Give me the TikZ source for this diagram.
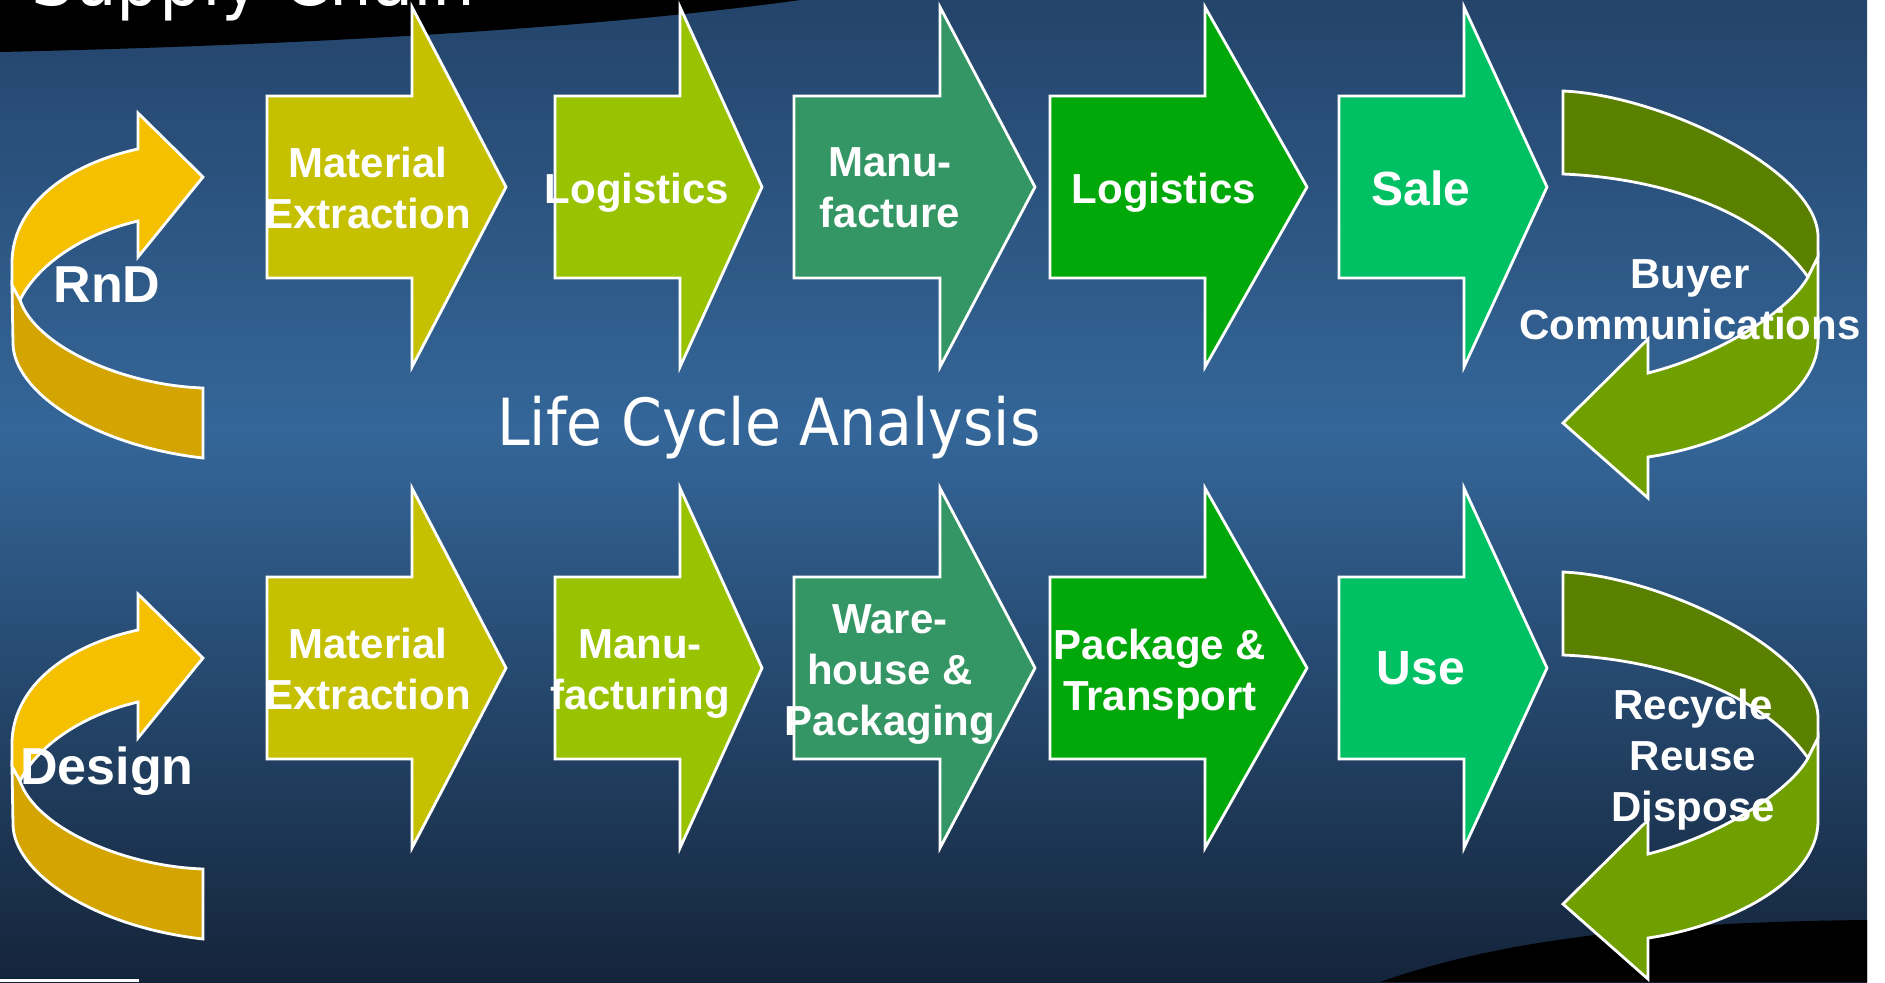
\documentclass[tikz,border=0pt]{standalone}
\usepackage{fontspec}
\setmainfont{Liberation Sans}
\newfontfamily\slidefont{DejaVu Sans Condensed}

\definecolor{bgtop}{RGB}{36,68,106}
\definecolor{bgmid}{RGB}{52,102,153}
\definecolor{bgbot}{RGB}{20,36,58}
\definecolor{matcol}{RGB}{197,192,0}
\definecolor{logcol}{RGB}{153,194,0}
\definecolor{mancol}{RGB}{52,150,100}
\definecolor{shipcol}{RGB}{0,168,10}
\definecolor{salecol}{RGB}{0,192,100}
\definecolor{turnfront}{RGB}{245,192,0}
\definecolor{turnback}{RGB}{212,165,0}
\definecolor{loopback}{RGB}{90,128,0}
\definecolor{loopfront}{RGB}{112,160,0}

\begin{document}
\begin{tikzpicture}[x=0.5pt, y=-0.5pt,
		flow/.style     = {draw=white, line width=1.4pt, line join=miter},
		word/.style     = {text=white, align=center, inner sep=0pt, font=\bfseries\fontsize{21}{25.5}\selectfont},
		big word/.style = {word, font=\bfseries\fontsize{24}{28}\selectfont},
		side word/.style= {word, font=\bfseries\fontsize{26}{30}\selectfont},
		heading/.style  = {text=white, inner sep=0pt, font=\slidefont\fontsize{32.5}{36}\selectfont}]
		
		\useasboundingbox (0,0) rectangle (1885,982);
		\clip (0,0) rectangle (1885,982);
		
		% slide background
		\fill[white] (0,0) rectangle (1885,982);
		\shade[top color=bgtop, bottom color=bgmid] (0,0) rectangle (1867,430);
		\shade[top color=bgmid, bottom color=bgbot] (0,430) rectangle (1867,982);
		\fill[black] (0,0) -- (0,52) .. controls (350,44) and (620,25) .. (800,0) -- cycle;
		\fill[black] (1380,982) .. controls (1500,940) and (1650,922) .. (1867,920) -- (1867,982) -- cycle;
		\fill[white] (0,979) rectangle (139,982);
		\node[heading, anchor=base west, font=\slidefont\fontsize{37.5}{40}\selectfont] (title) at (31,5) {Supply Chain};
		
		% straight block arrows, both rows
		\foreach \tail/\base/\tip/\col in {267/412/506/matcol, 555/680/762/logcol, 794/940/1035/mancol, 1050/1205/1307/shipcol, 1339/1464/1547/salecol}
		\foreach \dy in {0,481}
		\filldraw[flow, fill=\col] (\tail,96+\dy) -- (\base,96+\dy) -- (\base,7+\dy) -- (\tip,187+\dy) -- (\base,367+\dy) -- (\base,278+\dy) -- (\tail,278+\dy) -- cycle;
		
		% curved arrows at both ends of each row
		\foreach \dy in {0,481} {
			\begin{scope}[shift={(0,\dy)}]
				\filldraw[flow, fill=turnback] (12,285) -- (13,343) .. controls (13,390) and (90,445) .. (203,458) -- (203,388) .. controls (120,385) and (35,345) .. (20,300) -- cycle;
				\filldraw[flow, fill=turnfront] (138,149) .. controls (60,166) and (12,210) .. (12,263) -- (12,285) -- (20,300) .. controls (40,260) and (90,232) .. (138,221) -- (138,257) -- (203,177) -- (138,113) -- cycle;
				\filldraw[flow, fill=loopback] (1563,91) .. controls (1660,95) and (1818,170) .. (1818,237) -- (1818,257) -- (1808,277) .. controls (1760,210) and (1660,178) .. (1563,174) -- cycle;
				\filldraw[flow, fill=loopfront] (1818,257) -- (1818,340) .. controls (1818,400) and (1730,445) .. (1648,457) -- (1648,498) -- (1563,423) -- (1648,339) -- (1648,373) .. controls (1720,355) and (1790,310) .. (1808,277) -- cycle;
			\end{scope}
		}
		
		% first row
		\node[word] (a1) at (368,188) {Material\\Extraction};
		\node[word] (a2) at (637,193) {Logistics};
		\node[word] (a3) at (890,188) {Manu-\\facture};
		\node[word] (a4) at (1164,193) {Logistics};
		\node[big word] (a5) at (1421,188) {Sale};
		\node[side word] (rnd) at (107,285) {RnD};
		\node[word] (buyer) at (1690,300) {Buyer\\Communications};
		
		% second row
		\node[word] (b1) at (368,669) {Material\\Extraction};
		\node[word] (b2) at (640,674) {Manu-\\facturing};
		\node[word] (b3) at (890,674) {Ware-\\house \&\\Packaging};
		\node[word] (b4) at (1160,674) {Package \&\\Transport};
		\node[big word] (b5) at (1421,668) {Use};
		\node[side word] (design) at (107,771) {Design};
		\node[word] (recycle) at (1693,760) {Recycle\\Reuse\\Dispose};
		
		\node[heading, anchor=base] (lca) at (769,445) {Life Cycle Analysis};
		
	\end{tikzpicture}
\end{document}
